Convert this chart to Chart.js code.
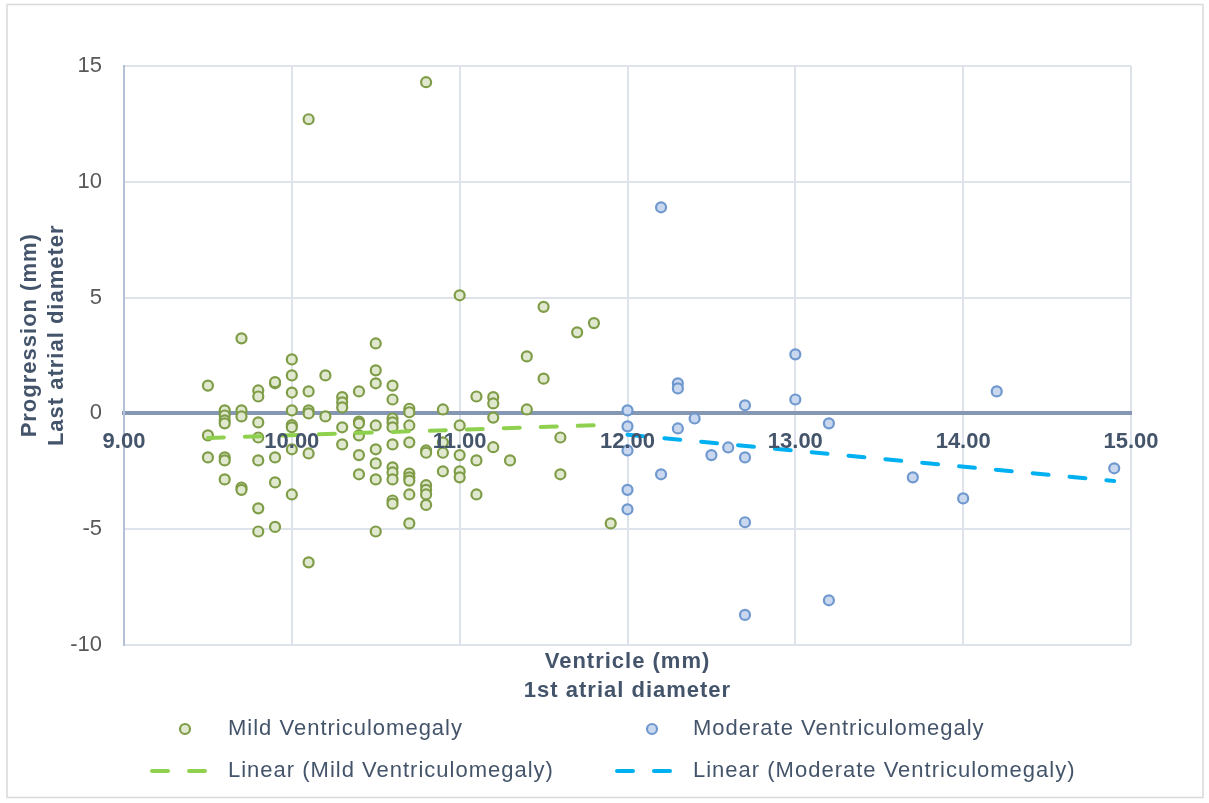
<!DOCTYPE html>
<html>
<head>
<meta charset="utf-8">
<title>Ventricle progression</title>
<script src="https://cdn.jsdelivr.net/npm/chart.js@4.4.1/dist/chart.umd.min.js"></script>
<style>
  html, body { margin: 0; padding: 0; background: #ffffff; }
  canvas { display: block; }
</style>
</head>
<body>
<canvas id="chart" width="1209" height="803"></canvas>
<script>
// First atrial diameter (mm) and progression (mm) for each fetus, grouped by severity
const mildVentricle = [
  9.5, 9.5, 9.5,
  9.6, 9.6, 9.6, 9.6, 9.6, 9.6, 9.6,
  9.7, 9.7, 9.7, 9.7, 9.7,
  9.8, 9.8, 9.8, 9.8, 9.8, 9.8, 9.8,
  9.9, 9.9, 9.9, 9.9, 9.9,
  10.0, 10.0, 10.0, 10.0, 10.0, 10.0, 10.0, 10.0,
  10.1, 10.1, 10.1, 10.1, 10.1, 10.1,
  10.2, 10.2,
  10.3, 10.3, 10.3, 10.3, 10.3,
  10.4, 10.4, 10.4, 10.4, 10.4, 10.4,
  10.5, 10.5, 10.5, 10.5, 10.5, 10.5, 10.5, 10.5,
  10.6, 10.6, 10.6, 10.6, 10.6, 10.6, 10.6, 10.6, 10.6, 10.6, 10.6,
  10.7, 10.7, 10.7, 10.7, 10.7, 10.7, 10.7, 10.7, 10.7,
  10.8, 10.8, 10.8, 10.8, 10.8, 10.8, 10.8,
  10.9, 10.9, 10.9, 10.9,
  11.0, 11.0, 11.0, 11.0, 11.0,
  11.1, 11.1, 11.1,
  11.2, 11.2, 11.2, 11.2,
  11.3,
  11.4, 11.4,
  11.5, 11.5,
  11.6, 11.6,
  11.7,
  11.8,
  11.9
];
const mildProgression = [
  1.2, -0.95, -1.9,
  0.13, -0.09, -0.3, -0.43, -1.9, -2.03, -2.85,
  3.24, 0.13, -0.13, -3.2, -3.3,
  0.99, 0.73, -0.39, -1.04, -2.03, -4.1, -5.1,
  1.3, 1.35, -1.9, -2.98, -4.9,
  2.33, 1.64, 0.9, 0.13, -0.5, -0.6, -1.55, -3.5,
  12.7, 0.95, 0.13, 0.0, -1.73, -6.43,
  1.64, -0.13,
  0.7, 0.48, 0.26, -0.6, -1.34,
  0.95, -0.35, -0.43, -0.95, -1.8, -2.63,
  3.02, 1.86, 1.3, -0.52, -1.55, -2.16, -2.85, -5.1,
  1.2, 0.6, -0.22, -0.39, -0.6, -1.34, -2.33, -2.55, -2.85, -3.76, -3.9,
  0.2, 0.05, -0.52, -1.25, -2.6, -2.76, -2.9, -3.5, -4.75,
  14.3, -1.6, -1.7, -3.1, -3.3, -3.5, -3.95,
  0.17, -1.25, -1.7, -2.5,
  5.1, -0.52, -1.8, -2.5, -2.76,
  0.73, -2.03, -3.5,
  0.7, 0.43, -0.18, -1.46,
  -2.03,
  2.46, 0.17,
  4.6, 1.5,
  -1.04, -2.63,
  3.5,
  3.9,
  -4.75
];
const moderateVentricle = [
  12.0, 12.0, 12.0, 12.0, 12.0,
  12.2, 12.2,
  12.3, 12.3, 12.3,
  12.4, 12.5, 12.6,
  12.7, 12.7, 12.7, 12.7,
  13.0, 13.0,
  13.2, 13.2,
  13.7, 14.0, 14.2, 14.9
];
const moderateProgression = [
  0.13, -0.56, -1.6, -3.3, -4.14,
  8.9, -2.63,
  1.3, 1.08, -0.65,
  -0.22, -1.8, -1.47,
  0.35, -1.9, -4.7, -8.7,
  2.55, 0.6,
  -0.43, -8.07,
  -2.76, -3.67, 0.95, -2.37
];

// Linear trend lines (end points)
const mildTrendVentricle = [9.5, 11.9];
const mildTrendProgression = [-1.06, -0.49];
const moderateTrendVentricle = [12.0, 14.9];
const moderateTrendProgression = [-0.92, -2.92];

// Axis ticks and titles
const xTickValues = [9, 10, 11, 12, 13, 14, 15];
const yTickValues = [-10, -5, 0, 5, 10, 15];
const xTitleLines = ['Ventricle (mm)', '1st atrial diameter'];
const yTitleLines = ['Progression (mm)', 'Last atrial diameter'];

const FONT = '"Liberation Sans", Arial, Helvetica, sans-serif';
const TEXT_DARK = '#44546a';

const toPoints = (xs, ys) => xs.map((x, i) => ({ x: x, y: ys[i] }));

Chart.defaults.font.family = FONT;

// White card with a thin grey frame
const framePlugin = {
  id: 'frame',
  beforeDraw(chart) {
    const ctx = chart.ctx;
    ctx.save();
    ctx.fillStyle = '#ffffff';
    ctx.fillRect(0, 0, chart.width, chart.height);
    ctx.strokeStyle = '#d9d9d9';
    ctx.lineWidth = 1.5;
    ctx.strokeRect(7, 4.5, chart.width - 13, chart.height - 10);
    ctx.restore();
  }
};

// Two-line bold axis titles
const axisTitlePlugin = {
  id: 'axisTitles',
  afterDraw(chart) {
    const { ctx, chartArea: a } = chart;
    ctx.save();
    ctx.font = 'bold 22px ' + FONT;
    ctx.fillStyle = TEXT_DARK;
    ctx.letterSpacing = '1px';
    ctx.textAlign = 'center';
    ctx.textBaseline = 'middle';
    const cx = (a.left + a.right) / 2;
    xTitleLines.forEach((t, i) => ctx.fillText(t, cx, a.bottom + 17 + i * 29));
    ctx.translate(30, a.top + (a.bottom - a.top) * 0.465);
    ctx.rotate(-Math.PI / 2);
    yTitleLines.forEach((t, i) => ctx.fillText(t, 0, i * 27));
    ctx.restore();
  }
};

// Two-column legend under the plot
const gridLegendPlugin = {
  id: 'gridLegend',
  afterDraw(chart) {
    const ctx = chart.ctx;
    const cols = [{ mark: 185, lineFrom: 152, lineTo: 206, text: 228 },
                  { mark: 652, lineFrom: 617, lineTo: 671, text: 693 }];
    const rows = [729, 771];
    ctx.save();
    chart.data.datasets.forEach((ds, i) => {
      const col = cols[i % 2];
      const y = rows[Math.floor(i / 2)];
      if (ds.showLine) {
        ctx.strokeStyle = ds.borderColor;
        ctx.lineWidth = ds.borderWidth;
        ctx.lineCap = 'round';
        ctx.setLineDash(ds.borderDash);
        ctx.beginPath();
        ctx.moveTo(col.lineFrom, y);
        ctx.lineTo(col.lineTo, y);
        ctx.stroke();
        ctx.setLineDash([]);
      } else {
        ctx.beginPath();
        ctx.arc(col.mark, y, ds.pointRadius, 0, Math.PI * 2);
        ctx.fillStyle = ds.backgroundColor;
        ctx.fill();
        ctx.lineWidth = ds.pointBorderWidth;
        ctx.strokeStyle = ds.borderColor;
        ctx.stroke();
      }
      ctx.font = '22px ' + FONT;
      ctx.letterSpacing = '1px';
      ctx.fillStyle = TEXT_DARK;
      ctx.textAlign = 'left';
      ctx.textBaseline = 'middle';
      ctx.fillText(ds.label, col.text, y);
      ctx.letterSpacing = '0px';
    });
    ctx.restore();
  }
};

const gridStyle = { color: '#dde2eb', lineWidth: 2, drawTicks: false };

new Chart(document.getElementById('chart'), {
  type: 'scatter',
  data: {
    datasets: [
      {
        label: 'Mild Ventriculomegaly',
        data: toPoints(mildVentricle, mildProgression),
        pointRadius: 5,
        pointBorderWidth: 2.2,
        borderColor: '#7f9c47',
        backgroundColor: '#e0e9d0',
        order: 2
      },
      {
        label: 'Moderate Ventriculomegaly',
        data: toPoints(moderateVentricle, moderateProgression),
        pointRadius: 5,
        pointBorderWidth: 2.2,
        borderColor: '#6f98cf',
        backgroundColor: '#c9d8ee',
        order: 2
      },
      {
        label: 'Linear (Mild Ventriculomegaly)',
        data: toPoints(mildTrendVentricle, mildTrendProgression),
        showLine: true,
        pointRadius: 0,
        borderColor: '#8fd14f',
        borderWidth: 4,
        borderDash: [16, 21],
        borderCapStyle: 'round',
        order: 1
      },
      {
        label: 'Linear (Moderate Ventriculomegaly)',
        data: toPoints(moderateTrendVentricle, moderateTrendProgression),
        showLine: true,
        pointRadius: 0,
        borderColor: '#00b0f0',
        borderWidth: 4,
        borderDash: [16, 21],
        borderCapStyle: 'round',
        order: 1
      }
    ]
  },
  options: {
    responsive: false,
    animation: false,
    events: [],
    layout: { padding: { left: 0, top: 66, right: 78, bottom: 158 } },
    plugins: {
      legend: { display: false },
      tooltip: { enabled: false },
      title: { display: false }
    },
    scales: {
      x: {
        type: 'linear',
        position: { y: 0 },
        min: 9,
        max: 15,
        afterBuildTicks: (s) => { s.ticks = xTickValues.map(v => ({ value: v })); },
        ticks: {
          callback: (v) => Number(v).toFixed(2),
          font: { size: 22, weight: 'bold' },
          color: TEXT_DARK,
          padding: 15,
          maxRotation: 0,
          autoSkip: false,
          z: 1
        },
        grid: gridStyle,
        border: { color: '#8597b2', width: 4 }
      },
      y: {
        type: 'linear',
        position: 'left',
        min: -10,
        max: 15,
        afterBuildTicks: (s) => { s.ticks = yTickValues.map(v => ({ value: v })); },
        afterFit: (s) => { s.width = 124; },
        ticks: {
          font: { size: 22 },
          color: '#595959',
          padding: 22
        },
        grid: gridStyle,
        border: { color: '#b3c0d5', width: 2 }
      }
    }
  },
  plugins: [framePlugin, axisTitlePlugin, gridLegendPlugin]
});
</script>
</body>
</html>
